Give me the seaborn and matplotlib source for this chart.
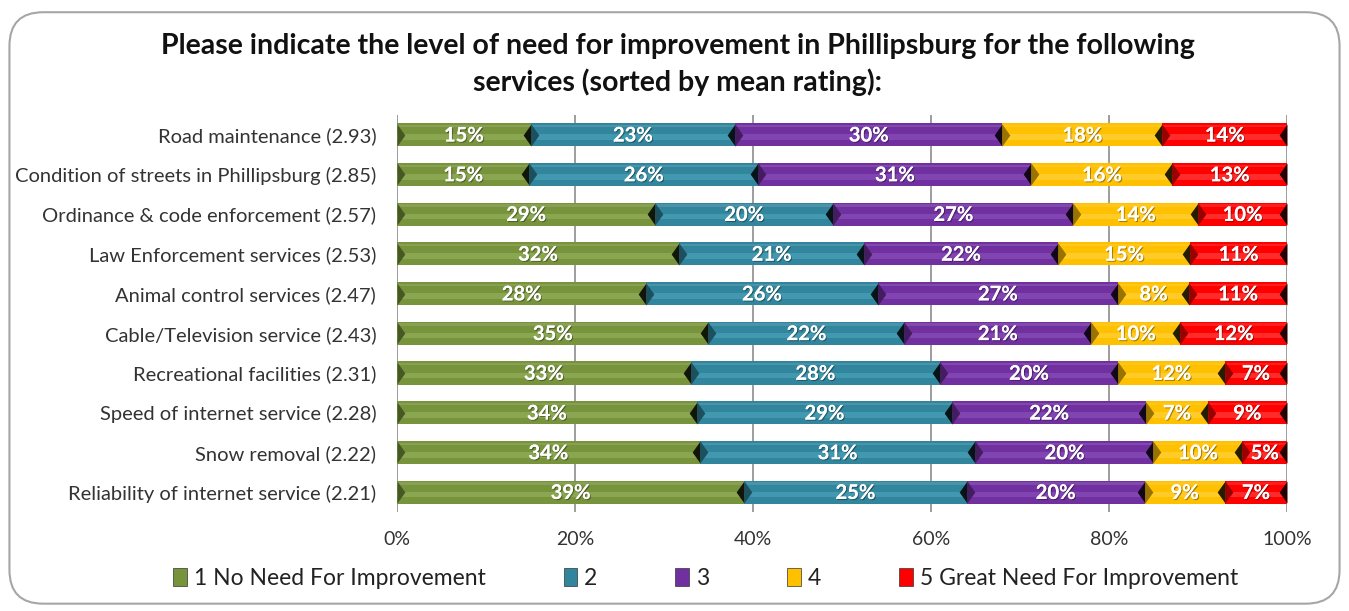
import matplotlib
matplotlib.use("Agg")
import matplotlib.pyplot as plt
from matplotlib.patches import FancyBboxPatch
import matplotlib.colors as mcolors
import matplotlib.patheffects as pe
import seaborn as sns
import numpy as np
import pandas as pd

categories = [
    "Road maintenance (2.93)",
    "Condition of streets in Phillipsburg (2.85)",
    "Ordinance & code enforcement (2.57)",
    "Law Enforcement services (2.53)",
    "Animal control services (2.47)",
    "Cable/Television service (2.43)",
    "Recreational facilities (2.31)",
    "Speed of internet service (2.28)",
    "Snow removal (2.22)",
    "Reliability of internet service (2.21)",
]
series_names = ["1 No Need For Improvement", "2", "3", "4", "5 Great Need For Improvement"]
s1 = [15, 15, 29, 32, 28, 35, 33, 34, 34, 39]
s2 = [23, 26, 20, 21, 26, 22, 28, 29, 31, 25]
s3 = [30, 31, 27, 22, 27, 21, 20, 22, 20, 20]
s4 = [18, 16, 14, 15, 8, 10, 12, 7, 10, 9]
s5 = [14, 13, 10, 11, 11, 12, 7, 9, 5, 7]
colors = ["#77933C", "#31859C", "#7030A0", "#FFC000", "#FF0000"]
highlight = ["#9BB764", "#4FA8C0", "#9058C0", "#FFD54A", "#FF5050"]
xticks = [0, 20, 40, 60, 80, 100]

sns.set_theme(style="white")
plt.rcParams["font.family"] = ["Lato", "DejaVu Sans"]

vals = np.array([s1, s2, s3, s4, s5], dtype=float)
share = vals / vals.sum(axis=0) * 100
cum = np.cumsum(share, axis=0)
ypos = np.arange(len(categories))


def shade(c, f):
    r, g, b = mcolors.to_rgb(c)
    return (r * f, g * f, b * f)


fig = plt.figure(figsize=(13.49, 6.11), dpi=100)
frame = FancyBboxPatch((0.007, 0.012), 0.986, 0.968, boxstyle="round,pad=0,rounding_size=0.025",
                       transform=fig.transFigure, facecolor="none", edgecolor="#A6A6A6",
                       linewidth=1.5, mutation_aspect=1349/611, zorder=-10)
fig.patches.append(frame)

ax = fig.add_axes([0.2943, 0.162, 0.6597, 0.650])
ax.set_facecolor("none")

for i in range(4, -1, -1):
    df = pd.DataFrame({"cat": categories, "v": cum[i]})
    sns.barplot(data=df, x="v", y="cat", orient="h", color=colors[i], saturation=1,
                width=0.58, ax=ax, edgecolor="none", zorder=3)

# bevel-like highlight band
for i in range(4, -1, -1):
    left = cum[i] - share[i]
    ax.barh(ypos + 0.06, share[i], left=left, height=0.14,
            color=highlight[i], alpha=0.55, zorder=4, linewidth=0)
    ax.barh(ypos - 0.22, share[i], left=left, height=0.06,
            color="white", alpha=0.12, zorder=4, linewidth=0)

# bevel end caps
left_tri = [(0, 1.4), (0, -1.4), (1, 0)]
right_tri = [(0, 1.4), (0, -1.4), (-1, 0)]
for i in range(5):
    ax.scatter(cum[i] - share[i], ypos, marker=left_tri, s=250, color=shade(colors[i], 0.6),
               linewidths=0, zorder=5)
    ax.scatter(cum[i], ypos, marker=right_tri, s=250, color=shade(colors[i], 0.15),
               linewidths=0, zorder=5)

for i in range(5):
    for j in range(len(categories)):
        mid = cum[i][j] - share[i][j] / 2
        ax.text(mid, j + 0.02, f"{int(vals[i][j])}%", ha="center", va="center",
                color="white", fontsize=14.5, fontweight="bold", zorder=6,
                path_effects=[pe.withSimplePatchShadow(offset=(0.8, -0.8), shadow_rgbFace="black", alpha=0.35),
                              pe.Normal()])

ax.set_xlim(0, 100)
ax.set_ylim(len(categories) - 0.5, -0.5)
ax.set_xticks(xticks)
ax.set_xticklabels([f"{t}%" for t in xticks], fontsize=14, color="#333333")
ax.tick_params(axis="y", labelsize=14.5, colors="#333333", length=0, pad=15)
ax.tick_params(axis="x", length=0, pad=14)
ax.set_xlabel("")
ax.set_ylabel("")
for t in xticks:
    ax.axvline(t, color="#8C8C8C", linewidth=1.2, zorder=1)
for s in ["top", "right", "bottom", "left"]:
    ax.spines[s].set_visible(False)

fig.text(0.5025, 0.925, "Please indicate the level of need for improvement in Phillipsburg for the following",
         ha="center", va="center", fontsize=20.5, fontweight="bold", color="#111111")
fig.text(0.5025, 0.866, "services (sorted by mean rating):",
         ha="center", va="center", fontsize=20.5, fontweight="bold", color="#111111")

handles = [plt.Rectangle((0, 0), 1, 1, facecolor=c, edgecolor="#333333", linewidth=0.5) for c in colors]
leg = fig.legend(handles, series_names, loc="center", bbox_to_anchor=(0.523, 0.053), ncol=5,
                 frameon=False, fontsize=16.5, handlelength=0.6, handleheight=0.8,
                 handletextpad=0.3, columnspacing=3.4)
for t in leg.get_texts():
    t.set_color("#222222")

fig.savefig("out.png", dpi=100)
